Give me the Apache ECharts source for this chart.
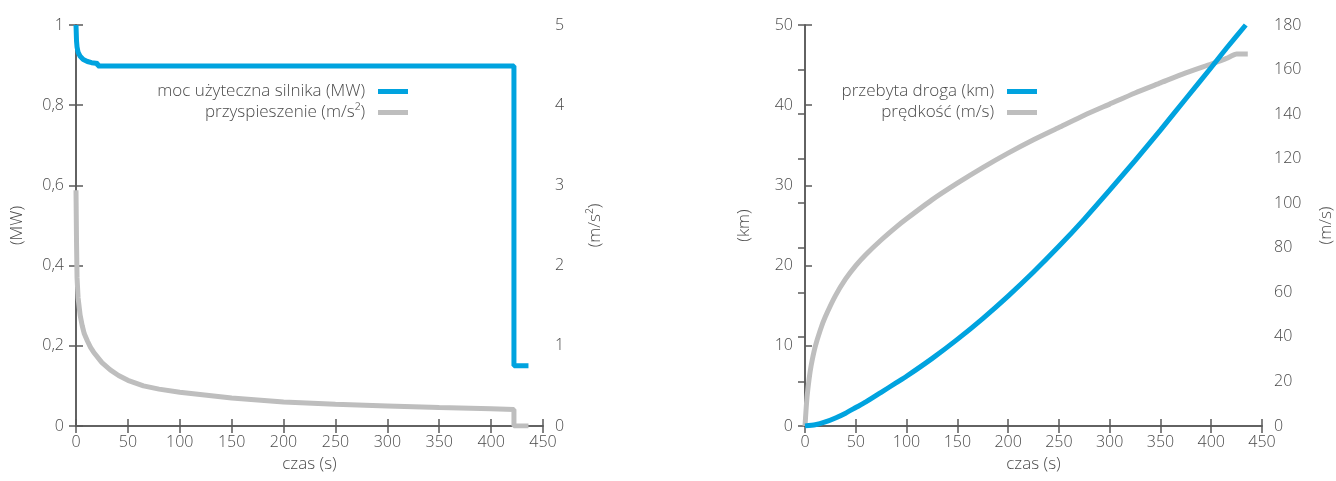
<!DOCTYPE html>
<html>
<head>
<meta charset="utf-8">
<script src="https://cdn.jsdelivr.net/npm/echarts@6/dist/echarts.min.js"></script>
<style>
  html, body { margin: 0; background: #fff; }
  #chart { width: 1336px; height: 481px; }
</style>
</head>
<body>
<div id="chart"></div>
<script>
// lewy wykres: moc i przyspieszenie
const czasMoc = [0, 0.5, 1, 2, 4, 7, 11, 15, 21, 21, 422, 422, 436];
const moc = [1, 0.96, 0.945, 0.932, 0.922, 0.914, 0.909, 0.906, 0.904, 0.898, 0.898, 0.15, 0.15];

const czasPrzysp = [0, 0.5, 1, 2, 4, 6, 8, 11, 14, 17, 25, 33, 41, 50, 65, 80, 100, 150, 200, 250, 300, 350, 400, 422, 422, 436];
const przysp = [2.94, 2.3, 1.85, 1.6, 1.38, 1.25, 1.15, 1.06, 0.98, 0.92, 0.79, 0.7, 0.63, 0.57, 0.5, 0.46, 0.42, 0.35, 0.3, 0.27, 0.25, 0.23, 0.215, 0.205, 0, 0];

// prawy wykres: droga i prędkość
const czasDroga = [0, 10, 20, 30, 40, 50, 60, 75, 90, 100, 125, 150, 175, 200, 225, 250, 275, 300, 325, 350, 375, 400, 415, 434];
const droga = [0, 0.15, 0.5, 1.0, 1.6, 2.3, 3.0, 4.2, 5.4, 6.2, 8.4, 10.8, 13.4, 16.2, 19.2, 22.4, 25.8, 29.4, 33.1, 36.9, 40.8, 44.7, 47.1, 50];

const czasPredkosc = [0, 1, 2, 4, 6, 10, 15, 20, 30, 40, 50, 60, 75, 90, 100, 125, 150, 175, 200, 225, 250, 275, 300, 325, 350, 375, 400, 415, 425, 436];
const predkosc = [0, 7, 13, 21, 27, 35.5, 43, 49, 58.5, 66, 72, 77, 83.5, 89.4, 93, 101.5, 109, 116, 122.5, 128.5, 134, 139.5, 144.5, 149.5, 154, 158.5, 162.5, 165, 167, 167];

const pary = (xs, ys) => xs.map((x, i) => [x, ys[i]]);

const NIEBIESKI = '#00a3df';
const SZARY = '#bebebe';
const OS = '#595959';
const TEKST = '#4a4a4a';
const FONT = 'Open Sans';
const przecinek = v => String(v).replace('.', ',');

function osX(grid, top) {
  return {
    type: 'value', gridIndex: grid, position: top ? 'top' : 'bottom',
    min: 0, max: 450, interval: 50,
    axisLine: { lineStyle: { color: OS, width: 1.5 } },
    axisTick: { inside: true, length: 7, lineStyle: { color: OS, width: 1.5 } },
    axisLabel: { show: !top, color: TEKST, fontSize: 16, fontWeight: 300, fontFamily: FONT, margin: 8 },
    splitLine: { show: false },
    name: top ? '' : 'czas (s)', nameLocation: 'middle', nameGap: 30,
    nameTextStyle: { color: TEKST, fontSize: 17, fontWeight: 300, fontFamily: FONT }
  };
}

function osY(grid, right, max, interval, name, gap, fmt) {
  return {
    type: 'value', gridIndex: grid, position: right ? 'right' : 'left',
    min: 0, max: max, interval: interval,
    axisLine: { show: true, lineStyle: { color: OS, width: 1.5 } },
    axisTick: { show: true, inside: true, length: 7, lineStyle: { color: OS, width: 1.5 } },
    axisLabel: { color: TEKST, fontSize: 16, fontWeight: 300, fontFamily: FONT, margin: 12, formatter: fmt },
    splitLine: { show: false },
    name: name, nameLocation: 'middle', nameGap: gap, nameRotate: 90,
    nameTextStyle: { color: TEKST, fontSize: 17, fontWeight: 300, fontFamily: FONT }
  };
}

function legenda(nazwy, right) {
  return {
    data: nazwy, orient: 'vertical', align: 'right', right: right, top: 76,
    itemWidth: 30, itemHeight: 5, itemGap: 0, icon: 'rect',
    textStyle: { color: TEKST, fontSize: 17, fontWeight: 300, fontFamily: FONT, lineHeight: 21, padding: [0, 8, 0, 0] }
  };
}

const chart = echarts.init(document.getElementById('chart'));
chart.setOption({
  animation: false,
  grid: [
    { left: 76, top: 25, width: 467, height: 401 },
    { left: 805, top: 25, width: 460, height: 401 }
  ],
  legend: [
    legenda(['moc użyteczna silnika (MW)', 'przyspieszenie (m/s²)'], 923),
    legenda(['przebyta droga (km)', 'prędkość (m/s)'], 294)
  ],
  xAxis: [osX(0, false), osX(0, true), osX(1, false), osX(1, true)],
  yAxis: [
    osY(0, false, 1, 0.2, '(MW)', 50, przecinek),
    osY(0, true, 5, 1, '(m/s²)', 44, przecinek),
    osY(1, false, 50, 10, '(km)', 52),
    osY(1, true, 180, 20, '(m/s)', 56)
  ],
  series: [
    {
      name: 'moc użyteczna silnika (MW)', type: 'line', xAxisIndex: 0, yAxisIndex: 0,
      data: pary(czasMoc, moc), showSymbol: false, z: 3,
      lineStyle: { color: NIEBIESKI, width: 5 }, itemStyle: { color: NIEBIESKI }
    },
    {
      name: 'przyspieszenie (m/s²)', type: 'line', xAxisIndex: 0, yAxisIndex: 1,
      data: pary(czasPrzysp, przysp), showSymbol: false, z: 2,
      lineStyle: { color: SZARY, width: 5 }, itemStyle: { color: SZARY }
    },
    {
      name: 'przebyta droga (km)', type: 'line', xAxisIndex: 2, yAxisIndex: 2,
      data: pary(czasDroga, droga), showSymbol: false, z: 3, smooth: 0.2,
      lineStyle: { color: NIEBIESKI, width: 5 }, itemStyle: { color: NIEBIESKI }
    },
    {
      name: 'prędkość (m/s)', type: 'line', xAxisIndex: 2, yAxisIndex: 3,
      data: pary(czasPredkosc, predkosc), showSymbol: false, z: 2, smooth: 0.2,
      lineStyle: { color: SZARY, width: 5 }, itemStyle: { color: SZARY }
    }
  ]
});
</script>
</body>
</html>
